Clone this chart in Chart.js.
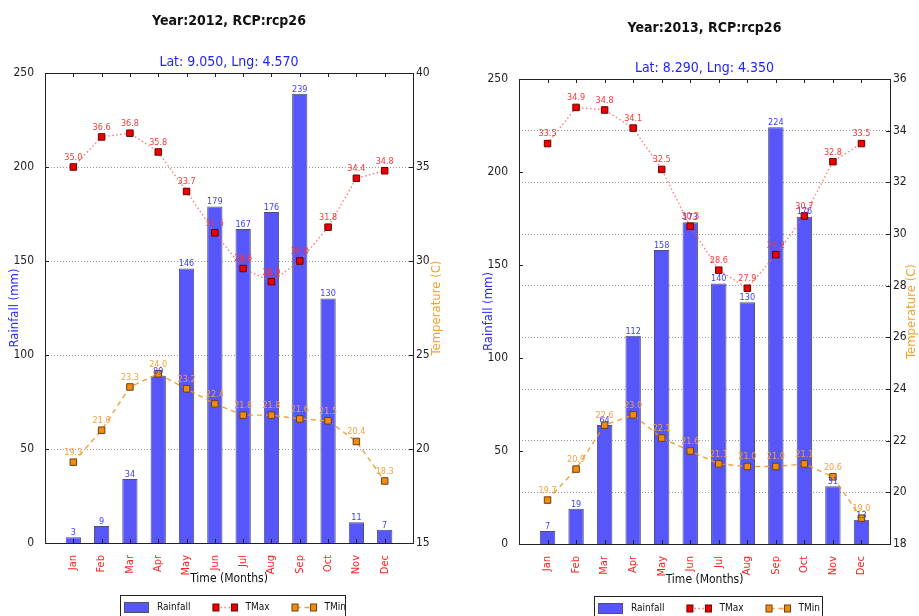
<!DOCTYPE html>
<html>
<head>
<meta charset="utf-8">
<script src="https://cdn.jsdelivr.net/npm/chart.js@4.4.0/dist/chart.umd.min.js"></script>
<style>
  html, body { margin: 0; padding: 0; background: #fff; overflow: hidden; }
  body { width: 919px; height: 616px; position: relative; }
  canvas { position: absolute; top: 0; }
  #chart2012 { left: 0; }
  #chart2013 { left: 460px; }
</style>
</head>
<body>
<canvas id="chart2012" width="460" height="630"></canvas>
<canvas id="chart2013" width="459" height="630"></canvas>
<script>
const months = ['Jan', 'Feb', 'Mar', 'Apr', 'May', 'Jun', 'Jul', 'Aug', 'Sep', 'Oct', 'Nov', 'Dec'];

// 2012 - Lat 9.050, Lng 4.570
const rain2012 = [3, 9, 34, 89, 146, 179, 167, 176, 239, 130, 11, 7];
const tmax2012 = [35.0, 36.6, 36.8, 35.8, 33.7, 31.5, 29.6, 28.9, 30.0, 31.8, 34.4, 34.8];
const tmin2012 = [19.3, 21.0, 23.3, 24.0, 23.2, 22.4, 21.8, 21.8, 21.6, 21.5, 20.4, 18.3];

// 2013 - Lat 8.290, Lng 4.350
const rain2013 = [7, 19, 64, 112, 158, 173, 140, 130, 224, 176, 31, 13];
const tmax2013 = [33.5, 34.9, 34.8, 34.1, 32.5, 30.3, 28.6, 27.9, 29.2, 30.7, 32.8, 33.5];
const tmin2013 = [19.7, 20.9, 22.6, 23.0, 22.1, 21.6, 21.1, 21.0, 21.0, 21.1, 20.6, 19.0];

// axis ranges [min, max, step]
const rainAxis = [0, 250, 50];
const tempAxis2012 = [15, 40, 5];
const tempAxis2013 = [18, 36, 2];

const FONT = "'DejaVu Sans Condensed', 'Liberation Sans Narrow', 'DejaVu Sans', sans-serif";
Chart.defaults.font.family = FONT;

// empty slot on each side so the months sit one unit in from the frame
const pad = arr => [null, ...arr, null];

// value text above bars and markers
const valueLabels = {
    id: 'valueLabels',
    afterDatasetsDraw(chart) {
        const ctx = chart.ctx;
        ctx.save();
        ctx.font = `9px ${FONT}`;
        ctx.textAlign = 'center';
        ctx.textBaseline = 'bottom';
        chart.data.datasets.forEach((ds, i) => {
            const meta = chart.getDatasetMeta(i);
            meta.data.forEach((el, j) => {
                const v = ds.data[j];
                if (v == null) return;
                ctx.fillStyle = ds.labelColor;
                if (ds.type === 'line') {
                    ctx.fillText(v.toFixed(1), el.x, el.y - 5);
                } else {
                    ctx.fillText(String(v), el.x, el.y);
                }
            });
        });
        ctx.restore();
    }
};

// box around the plot with inward tick marks
const frame = {
    id: 'frame',
    afterDraw(chart) {
        const { ctx, chartArea: a, scales } = chart;
        ctx.save();
        ctx.strokeStyle = '#222';
        ctx.lineWidth = 1;
        ctx.strokeRect(a.left + 0.5, a.top + 0.5, a.right - a.left, a.bottom - a.top);
        ctx.beginPath();
        for (let i = 1; i <= months.length; i++) {
            const x = Math.round(scales.x.getPixelForValue(i)) + 0.5;
            ctx.moveTo(x, a.bottom); ctx.lineTo(x, a.bottom - 4);
            ctx.moveTo(x, a.top); ctx.lineTo(x, a.top + 4);
        }
        scales.y.ticks.forEach(t => {
            const y = Math.round(scales.y.getPixelForValue(t.value)) + 0.5;
            ctx.moveTo(a.left, y); ctx.lineTo(a.left + 4, y);
        });
        scales.y1.ticks.forEach(t => {
            const y = Math.round(scales.y1.getPixelForValue(t.value)) + 0.5;
            ctx.moveTo(a.right, y); ctx.lineTo(a.right - 4, y);
        });
        ctx.stroke();
        ctx.restore();
    }
};

// right axis title reading bottom to top, like the left one
const rightTitle = {
    id: 'rightTitle',
    afterDraw(chart, args, opts) {
        const { ctx, chartArea: a } = chart;
        ctx.save();
        ctx.translate(opts.x, (a.top + a.bottom) / 2);
        ctx.rotate(-Math.PI / 2);
        ctx.font = `13px ${FONT}`;
        ctx.fillStyle = opts.color;
        ctx.textAlign = 'center';
        ctx.textBaseline = 'middle';
        ctx.fillText(opts.text, 0, 0);
        ctx.restore();
    }
};

// framed legend under the x axis
const boxLegend = {
    id: 'boxLegend',
    afterDraw(chart, args, opts) {
        const ctx = chart.ctx;
        ctx.save();
        ctx.fillStyle = '#fff';
        ctx.fillRect(opts.x, opts.y, opts.w, opts.h);
        ctx.strokeStyle = '#222';
        ctx.lineWidth = 1;
        ctx.strokeRect(opts.x + 0.5, opts.y + 0.5, opts.w, opts.h);
        const cy = opts.y + 12.5;
        ctx.font = `10px ${FONT}`;
        ctx.textBaseline = 'middle';
        ctx.textAlign = 'left';
        let x = opts.x + 4;
        chart.data.datasets.forEach(ds => {
            if (ds.type === 'line') {
                ctx.save();
                ctx.strokeStyle = ds.borderColor;
                ctx.lineWidth = ds.borderWidth;
                ctx.setLineDash(ds.borderDash);
                ctx.beginPath();
                ctx.moveTo(x + 4, cy); ctx.lineTo(x + 22, cy);
                ctx.stroke();
                ctx.restore();
                [x + 3.5, x + 22].forEach(px => {
                    ctx.fillStyle = ds.pointBackgroundColor;
                    ctx.strokeStyle = ds.pointBorderColor;
                    ctx.fillRect(px - 3, cy - 3.5, 6, 7);
                    ctx.strokeRect(px - 3, cy - 3.5, 6, 7);
                });
            } else {
                ctx.fillStyle = ds.backgroundColor;
                ctx.strokeStyle = ds.borderColor;
                ctx.fillRect(x, cy - 5.5, 25, 11);
                ctx.strokeRect(x + 0.5, cy - 5, 24, 10);
            }
            ctx.fillStyle = '#111';
            ctx.fillText(ds.label, x + 33, cy);
            x += 33 + ctx.measureText(ds.label).width + 22;
        });
        ctx.restore();
    }
};

function buildChart(id, cfg) {
    const ctx = document.getElementById(id).getContext('2d');
    return new Chart(ctx, {
        type: 'bar',
        data: {
            labels: ['', ...months, ''],
            datasets: [
                {
                    type: 'bar',
                    label: 'Rainfall',
                    data: pad(cfg.rain),
                    yAxisID: 'y',
                    order: 1,
                    backgroundColor: '#5656fa',
                    borderColor: '#50506e',
                    borderWidth: 1,
                    barPercentage: 0.54,
                    categoryPercentage: 1,
                    labelColor: '#3d3dff'
                },
                {
                    type: 'line',
                    label: 'TMax',
                    data: pad(cfg.tmax),
                    yAxisID: 'y1',
                    order: 0,
                    borderColor: 'rgba(255, 90, 90, 0.8)',
                    borderWidth: 1.4,
                    borderDash: [1.5, 2.5],
                    pointStyle: 'rect',
                    pointRadius: 4.6,
                    pointBackgroundColor: '#ee0000',
                    pointBorderColor: '#6a0000',
                    pointBorderWidth: 1,
                    tension: 0,
                    labelColor: '#ff3535'
                },
                {
                    type: 'line',
                    label: 'TMin',
                    data: pad(cfg.tmin),
                    yAxisID: 'y1',
                    order: 0,
                    borderColor: 'rgba(240, 150, 40, 0.9)',
                    borderWidth: 1.4,
                    borderDash: [5, 4],
                    pointStyle: 'rect',
                    pointRadius: 4.6,
                    pointBackgroundColor: '#f08c10',
                    pointBorderColor: '#6e4010',
                    pointBorderWidth: 1,
                    tension: 0,
                    labelColor: '#f5a040'
                }
            ]
        },
        options: {
            responsive: false,
            animation: false,
            events: [],
            layout: { padding: { top: 0, left: 0, right: 0, bottom: cfg.bottomPad } },
            scales: {
                x: {
                    type: 'category',
                    offset: false,
                    grid: { display: false },
                    border: { display: false },
                    ticks: {
                        autoSkip: false,
                        minRotation: 90,
                        maxRotation: 90,
                        color: '#ff2020',
                        font: { size: 11 },
                        padding: 4
                    },
                    title: { display: true, text: 'Time (Months)', color: '#111', font: { size: 12 }, padding: 0 },
                    afterFit: s => { s.height = 43; }
                },
                y: {
                    position: 'left',
                    min: rainAxis[0],
                    max: rainAxis[1],
                    ticks: { stepSize: rainAxis[2], color: '#222', font: { size: 12 }, padding: 3 },
                    grid: { display: false },
                    border: { display: false },
                    title: {
                        display: true,
                        text: 'Rainfall (mm)',
                        color: '#2a2aff',
                        font: { size: 13 },
                        padding: { top: cfg.leftTitlePad, bottom: 0 }
                    },
                    afterFit: s => { s.width = cfg.leftW; }
                },
                y1: {
                    position: 'right',
                    min: cfg.temp[0],
                    max: cfg.temp[1],
                    ticks: { stepSize: cfg.temp[2], color: '#222', font: { size: 12 }, padding: 3 },
                    grid: { color: '#9a9a9a', lineWidth: 1, drawTicks: false },
                    border: { display: false, dash: [1, 2] },
                    afterFit: s => { s.width = cfg.rightW; }
                }
            },
            plugins: {
                legend: { display: false },
                tooltip: { enabled: false },
                title: {
                    display: true,
                    fullSize: false,
                    text: cfg.title,
                    color: '#111',
                    font: { size: 14, weight: 'bold' },
                    padding: { top: cfg.titlePad[0], bottom: cfg.titlePad[1] }
                },
                subtitle: {
                    display: true,
                    fullSize: false,
                    text: cfg.subtitle,
                    color: '#2222ff',
                    font: { size: 14 },
                    padding: { top: 0, bottom: cfg.subPad }
                },
                rightTitle: { text: 'Temperature (C)', color: '#f0a030', x: cfg.rightTitleX },
                boxLegend: cfg.legendBox
            }
        },
        plugins: [frame, valueLabels, rightTitle, boxLegend]
    });
}

buildChart('chart2012', {
    title: 'Year:2012, RCP:rcp26',
    subtitle: 'Lat: 9.050, Lng: 4.570',
    rain: rain2012, tmax: tmax2012, tmin: tmin2012, temp: tempAxis2012,
    leftW: 45, rightW: 47, leftTitlePad: 7, rightTitleX: 437,
    titlePad: [12.6, 24.2], subPad: 2.6, bottomPad: 44,
    legendBox: { x: 120, y: 595, w: 225, h: 28 }
});

buildChart('chart2013', {
    title: 'Year:2013, RCP:rcp26',
    subtitle: 'Lat: 8.290, Lng: 4.350',
    rain: rain2013, tmax: tmax2013, tmin: tmin2013, temp: tempAxis2013,
    leftW: 59, rightW: 29, leftTitlePad: 21, rightTitleX: 452,
    titlePad: [19.6, 23.2], subPad: 2.6, bottomPad: 43,
    legendBox: { x: 134, y: 596, w: 228, h: 28 }
});
</script>
</body>
</html>
